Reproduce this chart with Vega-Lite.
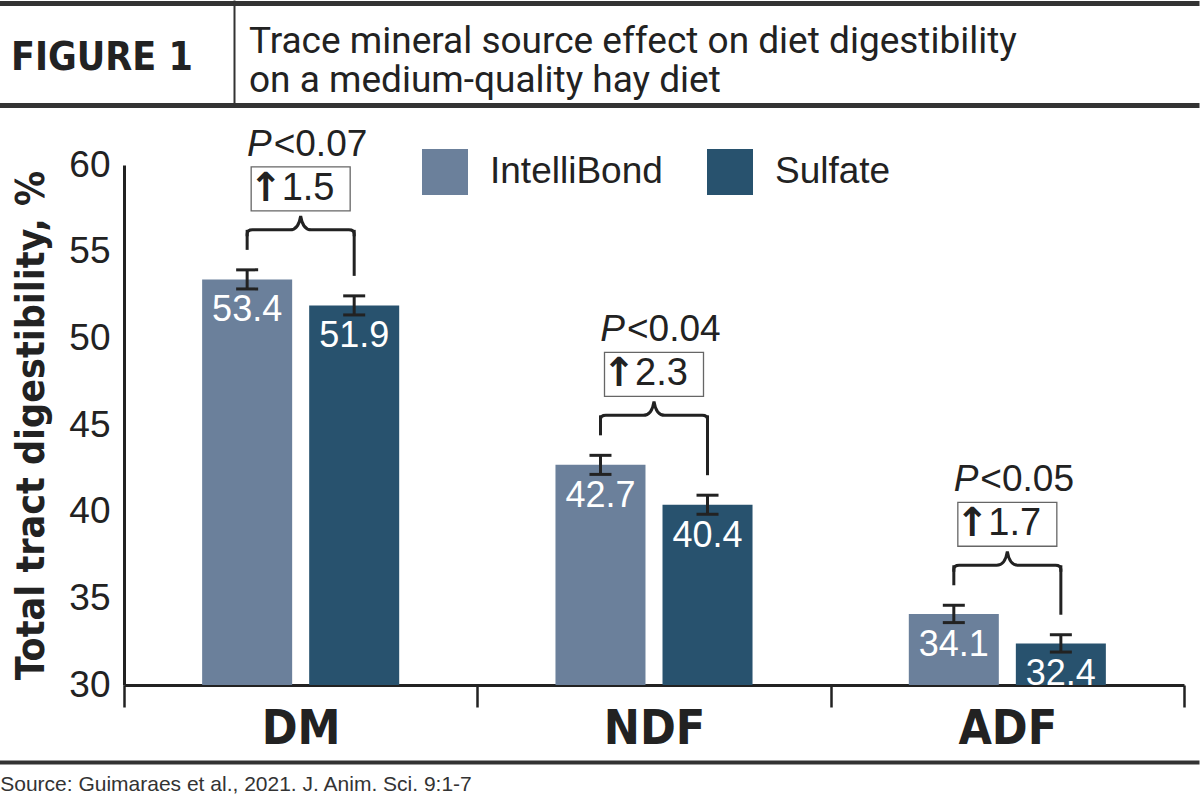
{
  "$schema": "https://vega.github.io/schema/vega-lite/v6.json",
  "padding": 0,
  "background": "white",
  "config": {"view": {"stroke": null}, "font": "Liberation Sans"},
  "datasets": {
    "header": [
      {"col": "left", "row": "mid", "text": "FIGURE 1"},
      {"col": "right", "row": "r1", "text": "Trace mineral source effect on diet digestibility"},
      {"col": "right", "row": "r2", "text": "on a medium-quality hay diet"}
    ],
    "digest": [
      {"cat": "DM", "group": "IntelliBond", "value": 53.4, "lo": 52.85, "hi": 53.95, "p": "<0.07", "diff": "1.5"},
      {"cat": "DM", "group": "Sulfate", "value": 51.9, "lo": 51.35, "hi": 52.45, "p": "<0.07", "diff": "1.5"},
      {"cat": "NDF", "group": "IntelliBond", "value": 42.7, "lo": 42.15, "hi": 43.25, "p": "<0.04", "diff": "2.3"},
      {"cat": "NDF", "group": "Sulfate", "value": 40.4, "lo": 39.85, "hi": 40.95, "p": "<0.04", "diff": "2.3"},
      {"cat": "ADF", "group": "IntelliBond", "value": 34.1, "lo": 33.6, "hi": 34.6, "p": "<0.05", "diff": "1.7"},
      {"cat": "ADF", "group": "Sulfate", "value": 32.4, "lo": 31.9, "hi": 32.9, "p": "<0.05", "diff": "1.7"}
    ],
    "source": [
      {"col": "s", "text": "Source: Guimaraes et al., 2021. J. Anim. Sci. 9:1-7"}
    ]
  },
  "vconcat": [
    {
      "width": 1075,
      "height": 116,
      "data": {"name": "header"},
      "layer": [
        {
          "transform": [{"filter": {"field": "row", "equal": "mid"}}],
          "mark": {"type": "text", "align": "center", "baseline": "middle", "font": "DejaVu Sans Condensed", "fontWeight": "bold", "fontSize": 39, "color": "#222"},
          "encoding": {
            "x": {
              "field": "col", "type": "nominal",
              "scale": {"type": "point", "domain": ["left"], "range": [-125, 1075], "align": 0.0858},
              "axis": {"orient": "bottom", "offset": -113, "title": null, "labels": false, "ticks": false, "grid": false, "domainColor": "#333", "domainWidth": 5}
            },
            "y": {
              "field": "row", "type": "nominal",
              "scale": {"type": "point", "domain": ["mid"], "range": [0, 105], "align": 0.55},
              "axis": {"orient": "left", "offset": -110, "title": null, "labels": false, "ticks": false, "grid": false, "domainColor": "#333", "domainWidth": 2}
            },
            "text": {"field": "text"}
          }
        },
        {
          "transform": [{"filter": {"field": "row", "equal": "r1"}}],
          "mark": {"type": "text", "align": "left", "baseline": "middle", "font": "Roboto", "fontSize": 37, "color": "#222"},
          "encoding": {
            "x": {
              "field": "col", "type": "nominal",
              "scale": {"type": "point", "domain": ["right"], "range": [-125, 1075], "align": 0.2083},
              "axis": null
            },
            "y": {"field": "row", "type": "nominal", "scale": {"type": "point", "domain": ["r1", "r2"], "range": [0, 105], "padding": 0.846, "align": 0.636}, "axis": null},
            "text": {"field": "text"}
          }
        },
        {
          "transform": [{"filter": {"field": "row", "equal": "r2"}}],
          "mark": {"type": "text", "align": "left", "baseline": "middle", "font": "Roboto", "fontSize": 37, "color": "#222"},
          "encoding": {
            "x": {
              "field": "col", "type": "nominal",
              "scale": {"type": "point", "domain": ["right"], "range": [-125, 1075], "align": 0.2083},
              "axis": {"orient": "bottom", "offset": -11, "title": null, "labels": false, "ticks": false, "grid": false, "domainColor": "#333", "domainWidth": 5}
            },
            "y": {"field": "row", "type": "nominal", "scale": {"type": "point", "domain": ["r1", "r2"], "range": [0, 105], "padding": 0.846, "align": 0.636}, "axis": null},
            "text": {"field": "text"}
          }
        }
      ],
      "resolve": {"scale": {"x": "independent", "y": "independent"}, "axis": {"x": "independent", "y": "independent"}}
    },
    {
      "width": 1060,
      "height": 520,
      "data": {"name": "digest"},
      "encoding": {
        "x": {
          "field": "cat", "type": "nominal", "sort": ["DM", "NDF", "ADF"],
          "scale": {"paddingInner": 0, "paddingOuter": 0},
          "axis": {
            "title": null, "labelAngle": 0, "labelFont": "DejaVu Sans Condensed", "labelFontWeight": "bold",
            "labelFontSize": 48, "labelColor": "#222", "labelPadding": -2,
            "domainColor": "#222", "domainWidth": 3, "tickColor": "#222", "tickWidth": 2.5, "tickSize": 22, "tickBand": "extent"
          }
        }
      },
      "layer": [
        {
          "mark": {"type": "bar", "clip": true},
          "encoding": {
            "xOffset": {"field": "group", "type": "nominal", "sort": ["IntelliBond", "Sulfate"], "scale": {"paddingInner": 0.159, "paddingOuter": 0.73}},
            "y": {
              "field": "value", "type": "quantitative",
              "scale": {"domain": [30, 60], "zero": false, "nice": false},
              "axis": {
                "title": "Total tract digestibility, %", "values": [30, 35, 40, 45, 50, 55, 60], "grid": false, "ticks": false,
                "domainColor": "#222", "domainWidth": 3, "labelFont": "Liberation Sans", "labelFontSize": 37, "labelColor": "#222",
                "labelPadding": 14, "titleFont": "DejaVu Sans Condensed", "titleFontSize": 39, "titleFontWeight": "bold",
                "titleColor": "#222", "titlePadding": 17
              }
            },
            "color": {
              "field": "group", "type": "nominal",
              "scale": {"domain": ["IntelliBond", "Sulfate"], "range": ["#6b809b", "#28526e"]},
              "legend": {
                "title": null, "orient": "none", "legendX": 298, "legendY": -16, "direction": "horizontal",
                "symbolType": "square", "symbolSize": 2116, "symbolStrokeWidth": 0, "symbolOpacity": 1,
                "labelFont": "Liberation Sans", "labelFontSize": 37, "labelColor": "#222", "labelOffset": 22, "labelLimit": 400,
                "columnPadding": 44, "padding": 0
              }
            }
          }
        },
        {
          "mark": {"type": "rule", "color": "#222", "strokeWidth": 3},
          "encoding": {
            "xOffset": {"field": "group", "type": "nominal", "sort": ["IntelliBond", "Sulfate"]},
            "y": {"field": "lo", "type": "quantitative"},
            "y2": {"field": "hi"}
          }
        },
        {
          "mark": {"type": "tick", "orient": "horizontal", "color": "#222", "size": 22, "thickness": 3, "opacity": 1},
          "encoding": {
            "xOffset": {"field": "group", "type": "nominal", "sort": ["IntelliBond", "Sulfate"]},
            "y": {"field": "lo", "type": "quantitative"}
          }
        },
        {
          "mark": {"type": "tick", "orient": "horizontal", "color": "#222", "size": 22, "thickness": 3, "opacity": 1},
          "encoding": {
            "xOffset": {"field": "group", "type": "nominal", "sort": ["IntelliBond", "Sulfate"]},
            "y": {"field": "hi", "type": "quantitative"}
          }
        },
        {
          "mark": {"type": "text", "color": "white", "font": "Liberation Sans", "fontSize": 36, "baseline": "top", "dy": 14},
          "encoding": {
            "xOffset": {"field": "group", "type": "nominal", "sort": ["IntelliBond", "Sulfate"]},
            "y": {"field": "value", "type": "quantitative"},
            "text": {"field": "value", "type": "quantitative", "format": ".1f"}
          }
        },
        {
          "transform": [{"joinaggregate": [{"op": "max", "field": "hi", "as": "top"}], "groupby": ["cat"]}],
          "mark": {"type": "rule", "color": "#222", "strokeWidth": 3, "yOffset": -20, "y2Offset": -40},
          "encoding": {
            "xOffset": {"field": "group", "type": "nominal", "sort": ["IntelliBond", "Sulfate"]},
            "y": {"field": "hi", "type": "quantitative"},
            "y2": {"field": "top"}
          }
        },
        {
          "transform": [{"filter": {"field": "group", "equal": "IntelliBond"}}],
          "mark": {
            "type": "point", "shape": "M-1,0.12 L-1,0.08 Q-1,0 -0.9,0 L-0.2,0 Q-0.04,0 0,-0.26 Q0.04,0 0.2,0 L0.9,0 Q1,0 1,0.08 L1,0.12",
            "size": 11449, "filled": false, "color": "#222", "strokeWidth": 3, "opacity": 1, "yOffset": -40
          },
          "encoding": {"y": {"field": "hi", "type": "quantitative"}}
        },
        {
          "transform": [{"filter": {"field": "group", "equal": "IntelliBond"}}],
          "mark": {
            "type": "point", "shape": "M-1,-0.444 L1,-0.444 L1,0.444 L-1,0.444 Z",
            "size": 9801, "filled": true, "fill": "white", "stroke": "#666", "strokeWidth": 1.3, "opacity": 1, "fillOpacity": 1, "yOffset": -81
          },
          "encoding": {"y": {"field": "hi", "type": "quantitative"}}
        },
        {
          "transform": [{"filter": {"field": "group", "equal": "IntelliBond"}}],
          "mark": {"type": "text", "text": "↑", "font": "DejaVu Sans", "fontWeight": "bold", "fontSize": 40, "color": "#222", "align": "center", "baseline": "middle", "dx": -35, "yOffset": -81},
          "encoding": {"y": {"field": "hi", "type": "quantitative"}}
        },
        {
          "transform": [{"filter": {"field": "group", "equal": "IntelliBond"}}],
          "mark": {"type": "text", "font": "Liberation Sans", "fontSize": 38, "color": "#222", "align": "left", "baseline": "middle", "dx": -19, "yOffset": -81},
          "encoding": {"y": {"field": "hi", "type": "quantitative"}, "text": {"field": "diff"}}
        },
        {
          "transform": [{"filter": {"field": "group", "equal": "IntelliBond"}}],
          "mark": {"type": "text", "text": "P", "font": "Liberation Sans", "fontStyle": "italic", "fontSize": 37, "color": "#222", "align": "right", "baseline": "middle", "dx": -29, "yOffset": -125},
          "encoding": {"y": {"field": "hi", "type": "quantitative"}}
        },
        {
          "transform": [{"filter": {"field": "group", "equal": "IntelliBond"}}],
          "mark": {"type": "text", "font": "Liberation Sans", "fontSize": 37, "color": "#222", "align": "left", "baseline": "middle", "dx": -27, "yOffset": -125},
          "encoding": {"y": {"field": "hi", "type": "quantitative"}, "text": {"field": "p"}}
        }
      ]
    },
    {
      "width": 1075,
      "height": 36,
      "data": {"name": "source"},
      "mark": {"type": "text", "align": "left", "baseline": "middle", "font": "Liberation Sans", "fontSize": 21, "color": "#333", "dy": 5},
      "encoding": {
        "x": {
          "field": "col", "type": "nominal",
          "scale": {"type": "point", "domain": ["s"], "range": [-125, 1075], "align": 0.001},
          "axis": {"orient": "top", "title": null, "labels": false, "ticks": false, "grid": false, "domainColor": "#333", "domainWidth": 4}
        },
        "text": {"field": "text"}
      }
    }
  ],
  "spacing": 9,
  "resolve": {"scale": {"color": "independent"}, "legend": {"color": "independent"}}
}
